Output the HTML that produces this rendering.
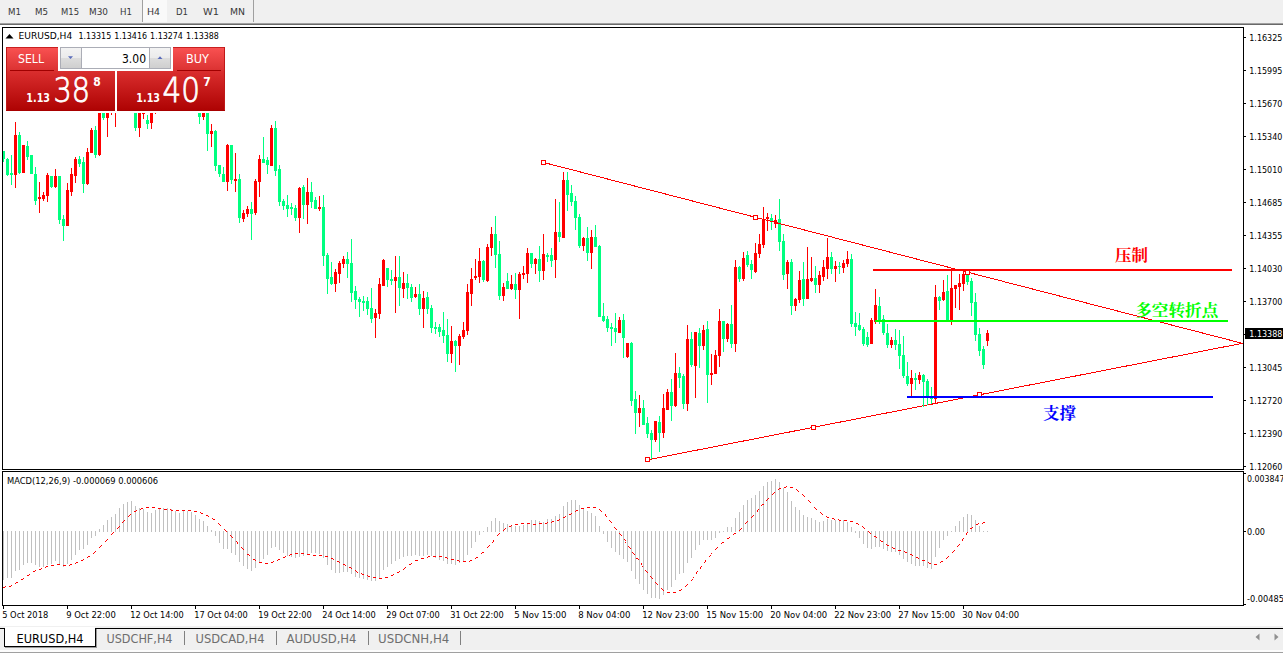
<!DOCTYPE html>
<html><head><meta charset="utf-8"><title>EURUSD,H4</title>
<style>html,body{margin:0;padding:0;background:#fff;overflow:hidden}svg{display:block}</style>
</head><body>
<svg width="1283" height="653" viewBox="0 0 1283 653" font-family="DejaVu Sans Condensed, Liberation Sans, sans-serif">
<defs>
<linearGradient id="gtab" x1="0" y1="0" x2="0" y2="1"><stop offset="0" stop-color="#fa5252"/><stop offset="1" stop-color="#d93030"/></linearGradient>
<linearGradient id="gbig" x1="0" y1="0" x2="0" y2="1"><stop offset="0" stop-color="#da2e2e"/><stop offset="1" stop-color="#ad0202"/></linearGradient>
<linearGradient id="gsp" x1="0" y1="0" x2="0" y2="1"><stop offset="0" stop-color="#f3f3f3"/><stop offset="0.48" stop-color="#ebebeb"/><stop offset="0.52" stop-color="#dcdcdc"/><stop offset="1" stop-color="#cfcfcf"/></linearGradient>
<clipPath id="cm"><rect x="3" y="28" width="1240" height="441"/></clipPath>
<clipPath id="cs"><rect x="3" y="472" width="1240" height="133"/></clipPath>
<clipPath id="cr"><rect x="1244" y="0" width="39" height="653"/></clipPath>
</defs>
<rect x="0" y="0" width="1283" height="653" fill="#fff"/>
<g shape-rendering="crispEdges">
<rect x="0" y="0" width="1283" height="23" fill="#f0f0f0"/>
<rect x="0" y="23" width="1283" height="1" fill="#a0a0a0"/>
<rect x="0" y="24" width="1283" height="1" fill="#696969"/>
<rect x="143" y="0" width="24" height="22" fill="#f9f9f9"/>
<rect x="142" y="0" width="1" height="22" fill="#a0a0a0"/>
<rect x="253" y="0" width="1" height="22" fill="#a0a0a0"/>
</g>
<text x="8" y="15" font-size="9.3" fill="#383838" textLength="13" lengthAdjust="spacingAndGlyphs">M1</text>
<text x="35" y="15" font-size="9.3" fill="#383838" textLength="13" lengthAdjust="spacingAndGlyphs">M5</text>
<text x="61" y="15" font-size="9.3" fill="#383838" textLength="18" lengthAdjust="spacingAndGlyphs">M15</text>
<text x="89" y="15" font-size="9.3" fill="#383838" textLength="19" lengthAdjust="spacingAndGlyphs">M30</text>
<text x="120" y="15" font-size="9.3" fill="#383838" textLength="12" lengthAdjust="spacingAndGlyphs">H1</text>
<text x="147" y="15" font-size="9.3" fill="#383838" textLength="13" lengthAdjust="spacingAndGlyphs">H4</text>
<text x="176" y="15" font-size="9.3" fill="#383838" textLength="12" lengthAdjust="spacingAndGlyphs">D1</text>
<text x="203" y="15" font-size="9.3" fill="#383838" textLength="16" lengthAdjust="spacingAndGlyphs">W1</text>
<text x="230" y="15" font-size="9.3" fill="#383838" textLength="15" lengthAdjust="spacingAndGlyphs">MN</text>
<g shape-rendering="crispEdges" fill="#000">
<rect x="2" y="27" width="1242" height="1" fill="#000"/>
<rect x="2" y="27" width="1" height="443" fill="#000"/>
<rect x="2" y="471" width="1" height="135" fill="#000"/>
<rect x="1243" y="27" width="1" height="443" fill="#000"/>
<rect x="1243" y="471" width="1" height="135" fill="#000"/>
<rect x="2" y="469" width="1242" height="1" fill="#000"/>
<rect x="2" y="471" width="1242" height="1" fill="#000"/>
<rect x="2" y="605" width="1242" height="1" fill="#000"/>
</g>
<g clip-path="url(#cm)" shape-rendering="crispEdges" fill="none" stroke="#ff0000" stroke-width="1">
<line x1="647" y1="459.9" x2="1243" y2="343.2"/>
</g>
<g clip-path="url(#cm)" shape-rendering="crispEdges">
<rect x="3" y="151" width="1" height="11" fill="#00ff80"/>
<rect x="2" y="151" width="3" height="8" fill="#00ff80"/>
<rect x="7" y="158" width="1" height="18" fill="#00ff80"/>
<rect x="6" y="159" width="3" height="16" fill="#00ff80"/>
<rect x="11" y="155" width="1" height="30" fill="#00ff80"/>
<rect x="10" y="173" width="3" height="2" fill="#00ff80"/>
<rect x="15" y="122" width="1" height="66" fill="#ff0000"/>
<rect x="14" y="135" width="3" height="40" fill="#ff0000"/>
<rect x="19" y="132" width="1" height="42" fill="#00ff80"/>
<rect x="18" y="135" width="3" height="38" fill="#00ff80"/>
<rect x="23" y="145" width="1" height="28" fill="#ff0000"/>
<rect x="22" y="145" width="3" height="28" fill="#ff0000"/>
<rect x="27" y="141" width="1" height="19" fill="#00ff80"/>
<rect x="26" y="146" width="3" height="11" fill="#00ff80"/>
<rect x="31" y="155" width="1" height="19" fill="#00ff80"/>
<rect x="30" y="155" width="3" height="19" fill="#00ff80"/>
<rect x="35" y="167" width="1" height="38" fill="#00ff80"/>
<rect x="34" y="174" width="3" height="27" fill="#00ff80"/>
<rect x="39" y="182" width="1" height="31" fill="#ff0000"/>
<rect x="38" y="197" width="3" height="2" fill="#ff0000"/>
<rect x="43" y="192" width="1" height="9" fill="#ff0000"/>
<rect x="42" y="195" width="3" height="4" fill="#ff0000"/>
<rect x="47" y="173" width="1" height="29" fill="#ff0000"/>
<rect x="46" y="175" width="3" height="21" fill="#ff0000"/>
<rect x="51" y="176" width="1" height="12" fill="#00ff80"/>
<rect x="50" y="176" width="3" height="11" fill="#00ff80"/>
<rect x="55" y="169" width="1" height="19" fill="#ff0000"/>
<rect x="54" y="176" width="3" height="11" fill="#ff0000"/>
<rect x="59" y="176" width="1" height="48" fill="#00ff80"/>
<rect x="58" y="176" width="3" height="44" fill="#00ff80"/>
<rect x="63" y="215" width="1" height="26" fill="#00ff80"/>
<rect x="62" y="219" width="3" height="7" fill="#00ff80"/>
<rect x="67" y="183" width="1" height="43" fill="#ff0000"/>
<rect x="66" y="190" width="3" height="36" fill="#ff0000"/>
<rect x="71" y="168" width="1" height="28" fill="#ff0000"/>
<rect x="70" y="174" width="3" height="18" fill="#ff0000"/>
<rect x="75" y="157" width="1" height="26" fill="#ff0000"/>
<rect x="74" y="159" width="3" height="17" fill="#ff0000"/>
<rect x="79" y="156" width="1" height="11" fill="#00ff80"/>
<rect x="78" y="159" width="3" height="5" fill="#00ff80"/>
<rect x="83" y="157" width="1" height="36" fill="#00ff80"/>
<rect x="82" y="162" width="3" height="22" fill="#00ff80"/>
<rect x="87" y="148" width="1" height="37" fill="#ff0000"/>
<rect x="86" y="152" width="3" height="32" fill="#ff0000"/>
<rect x="91" y="128" width="1" height="25" fill="#ff0000"/>
<rect x="90" y="130" width="3" height="23" fill="#ff0000"/>
<rect x="95" y="126" width="1" height="32" fill="#00ff80"/>
<rect x="94" y="130" width="3" height="25" fill="#00ff80"/>
<rect x="99" y="95" width="1" height="61" fill="#ff0000"/>
<rect x="98" y="100" width="3" height="55" fill="#ff0000"/>
<rect x="103" y="95" width="1" height="25" fill="#00ff80"/>
<rect x="102" y="100" width="3" height="18" fill="#00ff80"/>
<rect x="107" y="95" width="1" height="42" fill="#ff0000"/>
<rect x="106" y="100" width="3" height="18" fill="#ff0000"/>
<rect x="111" y="95" width="1" height="20" fill="#ff0000"/>
<rect x="110" y="100" width="3" height="11" fill="#ff0000"/>
<rect x="115" y="95" width="1" height="32" fill="#ff0000"/>
<rect x="114" y="100" width="3" height="11" fill="#ff0000"/>
<rect x="135" y="95" width="1" height="36" fill="#00ff80"/>
<rect x="134" y="100" width="3" height="28" fill="#00ff80"/>
<rect x="139" y="95" width="1" height="42" fill="#ff0000"/>
<rect x="138" y="100" width="3" height="28" fill="#ff0000"/>
<rect x="143" y="95" width="1" height="24" fill="#ff0000"/>
<rect x="142" y="100" width="3" height="14" fill="#ff0000"/>
<rect x="147" y="115" width="1" height="14" fill="#00ff80"/>
<rect x="146" y="120" width="3" height="4" fill="#00ff80"/>
<rect x="151" y="95" width="1" height="34" fill="#ff0000"/>
<rect x="150" y="100" width="3" height="23" fill="#ff0000"/>
<rect x="155" y="95" width="1" height="19" fill="#ff0000"/>
<rect x="154" y="100" width="3" height="11" fill="#ff0000"/>
<rect x="199" y="95" width="1" height="29" fill="#00ff80"/>
<rect x="198" y="100" width="3" height="17" fill="#00ff80"/>
<rect x="203" y="95" width="1" height="25" fill="#ff0000"/>
<rect x="202" y="100" width="3" height="17" fill="#ff0000"/>
<rect x="207" y="95" width="1" height="56" fill="#00ff80"/>
<rect x="206" y="100" width="3" height="34" fill="#00ff80"/>
<rect x="211" y="124" width="1" height="23" fill="#ff0000"/>
<rect x="210" y="131" width="3" height="3" fill="#ff0000"/>
<rect x="215" y="130" width="1" height="41" fill="#00ff80"/>
<rect x="214" y="131" width="3" height="35" fill="#00ff80"/>
<rect x="219" y="165" width="1" height="12" fill="#00ff80"/>
<rect x="218" y="165" width="3" height="9" fill="#00ff80"/>
<rect x="223" y="167" width="1" height="15" fill="#00ff80"/>
<rect x="222" y="174" width="3" height="8" fill="#00ff80"/>
<rect x="227" y="144" width="1" height="47" fill="#ff0000"/>
<rect x="226" y="145" width="3" height="37" fill="#ff0000"/>
<rect x="231" y="145" width="1" height="39" fill="#00ff80"/>
<rect x="230" y="145" width="3" height="35" fill="#00ff80"/>
<rect x="235" y="153" width="1" height="39" fill="#ff0000"/>
<rect x="234" y="179" width="3" height="2" fill="#ff0000"/>
<rect x="239" y="174" width="1" height="49" fill="#00ff80"/>
<rect x="238" y="179" width="3" height="39" fill="#00ff80"/>
<rect x="243" y="210" width="1" height="12" fill="#ff0000"/>
<rect x="242" y="213" width="3" height="6" fill="#ff0000"/>
<rect x="247" y="206" width="1" height="11" fill="#ff0000"/>
<rect x="246" y="209" width="3" height="5" fill="#ff0000"/>
<rect x="251" y="202" width="1" height="38" fill="#00ff80"/>
<rect x="250" y="209" width="3" height="5" fill="#00ff80"/>
<rect x="255" y="179" width="1" height="36" fill="#ff0000"/>
<rect x="254" y="181" width="3" height="32" fill="#ff0000"/>
<rect x="259" y="155" width="1" height="42" fill="#ff0000"/>
<rect x="258" y="159" width="3" height="23" fill="#ff0000"/>
<rect x="263" y="137" width="1" height="26" fill="#00ff80"/>
<rect x="262" y="159" width="3" height="4" fill="#00ff80"/>
<rect x="267" y="157" width="1" height="17" fill="#00ff80"/>
<rect x="266" y="160" width="3" height="5" fill="#00ff80"/>
<rect x="271" y="125" width="1" height="41" fill="#ff0000"/>
<rect x="270" y="128" width="3" height="38" fill="#ff0000"/>
<rect x="275" y="121" width="1" height="55" fill="#00ff80"/>
<rect x="274" y="128" width="3" height="43" fill="#00ff80"/>
<rect x="279" y="165" width="1" height="41" fill="#00ff80"/>
<rect x="278" y="169" width="3" height="33" fill="#00ff80"/>
<rect x="283" y="199" width="1" height="11" fill="#00ff80"/>
<rect x="282" y="201" width="3" height="5" fill="#00ff80"/>
<rect x="287" y="195" width="1" height="22" fill="#00ff80"/>
<rect x="286" y="205" width="3" height="4" fill="#00ff80"/>
<rect x="291" y="203" width="1" height="12" fill="#00ff80"/>
<rect x="290" y="207" width="3" height="2" fill="#00ff80"/>
<rect x="295" y="205" width="1" height="16" fill="#00ff80"/>
<rect x="294" y="208" width="3" height="10" fill="#00ff80"/>
<rect x="299" y="187" width="1" height="46" fill="#ff0000"/>
<rect x="298" y="188" width="3" height="30" fill="#ff0000"/>
<rect x="303" y="185" width="1" height="34" fill="#00ff80"/>
<rect x="302" y="187" width="3" height="18" fill="#00ff80"/>
<rect x="307" y="178" width="1" height="46" fill="#ff0000"/>
<rect x="306" y="192" width="3" height="13" fill="#ff0000"/>
<rect x="311" y="182" width="1" height="26" fill="#00ff80"/>
<rect x="310" y="192" width="3" height="10" fill="#00ff80"/>
<rect x="315" y="197" width="1" height="12" fill="#00ff80"/>
<rect x="314" y="200" width="3" height="9" fill="#00ff80"/>
<rect x="319" y="196" width="1" height="15" fill="#ff0000"/>
<rect x="318" y="207" width="3" height="2" fill="#ff0000"/>
<rect x="323" y="195" width="1" height="71" fill="#00ff80"/>
<rect x="322" y="207" width="3" height="49" fill="#00ff80"/>
<rect x="327" y="253" width="1" height="41" fill="#00ff80"/>
<rect x="326" y="255" width="3" height="24" fill="#00ff80"/>
<rect x="331" y="262" width="1" height="23" fill="#00ff80"/>
<rect x="330" y="277" width="3" height="7" fill="#00ff80"/>
<rect x="335" y="269" width="1" height="23" fill="#ff0000"/>
<rect x="334" y="272" width="3" height="12" fill="#ff0000"/>
<rect x="339" y="261" width="1" height="22" fill="#ff0000"/>
<rect x="338" y="263" width="3" height="11" fill="#ff0000"/>
<rect x="343" y="256" width="1" height="12" fill="#ff0000"/>
<rect x="342" y="259" width="3" height="5" fill="#ff0000"/>
<rect x="347" y="252" width="1" height="26" fill="#00ff80"/>
<rect x="346" y="259" width="3" height="5" fill="#00ff80"/>
<rect x="351" y="239" width="1" height="63" fill="#00ff80"/>
<rect x="350" y="263" width="3" height="30" fill="#00ff80"/>
<rect x="355" y="286" width="1" height="23" fill="#00ff80"/>
<rect x="354" y="291" width="3" height="9" fill="#00ff80"/>
<rect x="359" y="297" width="1" height="20" fill="#00ff80"/>
<rect x="358" y="299" width="3" height="3" fill="#00ff80"/>
<rect x="363" y="296" width="1" height="15" fill="#00ff80"/>
<rect x="362" y="301" width="3" height="2" fill="#00ff80"/>
<rect x="367" y="297" width="1" height="18" fill="#00ff80"/>
<rect x="366" y="301" width="3" height="8" fill="#00ff80"/>
<rect x="371" y="288" width="1" height="35" fill="#00ff80"/>
<rect x="370" y="308" width="3" height="11" fill="#00ff80"/>
<rect x="375" y="309" width="1" height="29" fill="#ff0000"/>
<rect x="374" y="313" width="3" height="5" fill="#ff0000"/>
<rect x="379" y="278" width="1" height="41" fill="#ff0000"/>
<rect x="378" y="284" width="3" height="30" fill="#ff0000"/>
<rect x="383" y="259" width="1" height="27" fill="#ff0000"/>
<rect x="382" y="260" width="3" height="26" fill="#ff0000"/>
<rect x="387" y="268" width="1" height="19" fill="#00ff80"/>
<rect x="386" y="268" width="3" height="12" fill="#00ff80"/>
<rect x="391" y="270" width="1" height="15" fill="#00ff80"/>
<rect x="390" y="279" width="3" height="2" fill="#00ff80"/>
<rect x="395" y="256" width="1" height="57" fill="#ff0000"/>
<rect x="394" y="277" width="3" height="4" fill="#ff0000"/>
<rect x="399" y="256" width="1" height="50" fill="#00ff80"/>
<rect x="398" y="277" width="3" height="11" fill="#00ff80"/>
<rect x="403" y="272" width="1" height="26" fill="#ff0000"/>
<rect x="402" y="283" width="3" height="6" fill="#ff0000"/>
<rect x="407" y="274" width="1" height="25" fill="#00ff80"/>
<rect x="406" y="283" width="3" height="5" fill="#00ff80"/>
<rect x="411" y="284" width="1" height="18" fill="#00ff80"/>
<rect x="410" y="287" width="3" height="11" fill="#00ff80"/>
<rect x="415" y="287" width="1" height="11" fill="#ff0000"/>
<rect x="414" y="294" width="3" height="3" fill="#ff0000"/>
<rect x="419" y="284" width="1" height="31" fill="#00ff80"/>
<rect x="418" y="294" width="3" height="15" fill="#00ff80"/>
<rect x="423" y="291" width="1" height="37" fill="#ff0000"/>
<rect x="422" y="298" width="3" height="11" fill="#ff0000"/>
<rect x="427" y="292" width="1" height="22" fill="#00ff80"/>
<rect x="426" y="297" width="3" height="12" fill="#00ff80"/>
<rect x="431" y="305" width="1" height="28" fill="#00ff80"/>
<rect x="430" y="308" width="3" height="20" fill="#00ff80"/>
<rect x="435" y="322" width="1" height="12" fill="#00ff80"/>
<rect x="434" y="327" width="3" height="2" fill="#00ff80"/>
<rect x="439" y="324" width="1" height="13" fill="#00ff80"/>
<rect x="438" y="327" width="3" height="5" fill="#00ff80"/>
<rect x="443" y="312" width="1" height="31" fill="#00ff80"/>
<rect x="442" y="330" width="3" height="6" fill="#00ff80"/>
<rect x="447" y="319" width="1" height="43" fill="#00ff80"/>
<rect x="446" y="335" width="3" height="19" fill="#00ff80"/>
<rect x="451" y="326" width="1" height="37" fill="#ff0000"/>
<rect x="450" y="341" width="3" height="13" fill="#ff0000"/>
<rect x="455" y="340" width="1" height="32" fill="#00ff80"/>
<rect x="454" y="341" width="3" height="5" fill="#00ff80"/>
<rect x="459" y="334" width="1" height="31" fill="#ff0000"/>
<rect x="458" y="336" width="3" height="10" fill="#ff0000"/>
<rect x="463" y="322" width="1" height="17" fill="#ff0000"/>
<rect x="462" y="330" width="3" height="7" fill="#ff0000"/>
<rect x="467" y="284" width="1" height="51" fill="#ff0000"/>
<rect x="466" y="292" width="3" height="39" fill="#ff0000"/>
<rect x="471" y="268" width="1" height="38" fill="#ff0000"/>
<rect x="470" y="279" width="3" height="15" fill="#ff0000"/>
<rect x="475" y="259" width="1" height="21" fill="#ff0000"/>
<rect x="474" y="276" width="3" height="2" fill="#ff0000"/>
<rect x="479" y="248" width="1" height="35" fill="#ff0000"/>
<rect x="478" y="261" width="3" height="16" fill="#ff0000"/>
<rect x="483" y="260" width="1" height="22" fill="#00ff80"/>
<rect x="482" y="261" width="3" height="19" fill="#00ff80"/>
<rect x="487" y="244" width="1" height="38" fill="#ff0000"/>
<rect x="486" y="247" width="3" height="34" fill="#ff0000"/>
<rect x="491" y="227" width="1" height="29" fill="#ff0000"/>
<rect x="490" y="234" width="3" height="14" fill="#ff0000"/>
<rect x="495" y="216" width="1" height="52" fill="#00ff80"/>
<rect x="494" y="234" width="3" height="21" fill="#00ff80"/>
<rect x="499" y="241" width="1" height="59" fill="#00ff80"/>
<rect x="498" y="254" width="3" height="42" fill="#00ff80"/>
<rect x="503" y="283" width="1" height="18" fill="#ff0000"/>
<rect x="502" y="287" width="3" height="9" fill="#ff0000"/>
<rect x="507" y="273" width="1" height="16" fill="#00ff80"/>
<rect x="506" y="281" width="3" height="8" fill="#00ff80"/>
<rect x="511" y="275" width="1" height="15" fill="#ff0000"/>
<rect x="510" y="284" width="3" height="5" fill="#ff0000"/>
<rect x="515" y="273" width="1" height="26" fill="#00ff80"/>
<rect x="514" y="284" width="3" height="6" fill="#00ff80"/>
<rect x="519" y="272" width="1" height="47" fill="#ff0000"/>
<rect x="518" y="274" width="3" height="16" fill="#ff0000"/>
<rect x="523" y="266" width="1" height="13" fill="#ff0000"/>
<rect x="522" y="273" width="3" height="2" fill="#ff0000"/>
<rect x="527" y="248" width="1" height="35" fill="#ff0000"/>
<rect x="526" y="253" width="3" height="21" fill="#ff0000"/>
<rect x="531" y="253" width="1" height="15" fill="#00ff80"/>
<rect x="530" y="253" width="3" height="11" fill="#00ff80"/>
<rect x="535" y="258" width="1" height="16" fill="#ff0000"/>
<rect x="534" y="259" width="3" height="5" fill="#ff0000"/>
<rect x="539" y="246" width="1" height="36" fill="#00ff80"/>
<rect x="538" y="259" width="3" height="12" fill="#00ff80"/>
<rect x="543" y="234" width="1" height="46" fill="#ff0000"/>
<rect x="542" y="254" width="3" height="17" fill="#ff0000"/>
<rect x="547" y="253" width="1" height="9" fill="#00ff80"/>
<rect x="546" y="255" width="3" height="2" fill="#00ff80"/>
<rect x="551" y="248" width="1" height="19" fill="#00ff80"/>
<rect x="550" y="255" width="3" height="6" fill="#00ff80"/>
<rect x="555" y="199" width="1" height="79" fill="#ff0000"/>
<rect x="554" y="232" width="3" height="28" fill="#ff0000"/>
<rect x="559" y="202" width="1" height="40" fill="#00ff80"/>
<rect x="558" y="232" width="3" height="5" fill="#00ff80"/>
<rect x="563" y="172" width="1" height="66" fill="#ff0000"/>
<rect x="562" y="180" width="3" height="58" fill="#ff0000"/>
<rect x="567" y="172" width="1" height="39" fill="#00ff80"/>
<rect x="566" y="180" width="3" height="15" fill="#00ff80"/>
<rect x="571" y="185" width="1" height="21" fill="#00ff80"/>
<rect x="570" y="193" width="3" height="9" fill="#00ff80"/>
<rect x="575" y="196" width="1" height="34" fill="#00ff80"/>
<rect x="574" y="201" width="3" height="17" fill="#00ff80"/>
<rect x="579" y="214" width="1" height="34" fill="#00ff80"/>
<rect x="578" y="217" width="3" height="29" fill="#00ff80"/>
<rect x="583" y="237" width="1" height="14" fill="#ff0000"/>
<rect x="582" y="238" width="3" height="8" fill="#ff0000"/>
<rect x="587" y="227" width="1" height="34" fill="#00ff80"/>
<rect x="586" y="238" width="3" height="15" fill="#00ff80"/>
<rect x="591" y="230" width="1" height="39" fill="#ff0000"/>
<rect x="590" y="237" width="3" height="16" fill="#ff0000"/>
<rect x="595" y="225" width="1" height="22" fill="#00ff80"/>
<rect x="594" y="237" width="3" height="10" fill="#00ff80"/>
<rect x="599" y="245" width="1" height="72" fill="#00ff80"/>
<rect x="598" y="246" width="3" height="71" fill="#00ff80"/>
<rect x="603" y="303" width="1" height="19" fill="#00ff80"/>
<rect x="602" y="316" width="3" height="5" fill="#00ff80"/>
<rect x="607" y="316" width="1" height="16" fill="#00ff80"/>
<rect x="606" y="319" width="3" height="9" fill="#00ff80"/>
<rect x="611" y="323" width="1" height="23" fill="#00ff80"/>
<rect x="610" y="327" width="3" height="2" fill="#00ff80"/>
<rect x="615" y="313" width="1" height="30" fill="#00ff80"/>
<rect x="614" y="328" width="3" height="4" fill="#00ff80"/>
<rect x="619" y="317" width="1" height="16" fill="#ff0000"/>
<rect x="618" y="320" width="3" height="13" fill="#ff0000"/>
<rect x="623" y="314" width="1" height="44" fill="#00ff80"/>
<rect x="622" y="320" width="3" height="18" fill="#00ff80"/>
<rect x="627" y="343" width="1" height="15" fill="#ff0000"/>
<rect x="626" y="343" width="3" height="14" fill="#ff0000"/>
<rect x="631" y="342" width="1" height="64" fill="#00ff80"/>
<rect x="630" y="343" width="3" height="58" fill="#00ff80"/>
<rect x="635" y="391" width="1" height="43" fill="#00ff80"/>
<rect x="634" y="399" width="3" height="14" fill="#00ff80"/>
<rect x="639" y="395" width="1" height="32" fill="#ff0000"/>
<rect x="638" y="408" width="3" height="5" fill="#ff0000"/>
<rect x="643" y="400" width="1" height="25" fill="#00ff80"/>
<rect x="642" y="408" width="3" height="17" fill="#00ff80"/>
<rect x="647" y="417" width="1" height="21" fill="#00ff80"/>
<rect x="646" y="423" width="3" height="11" fill="#00ff80"/>
<rect x="651" y="430" width="1" height="29" fill="#00ff80"/>
<rect x="650" y="433" width="3" height="7" fill="#00ff80"/>
<rect x="655" y="421" width="1" height="21" fill="#ff0000"/>
<rect x="654" y="421" width="3" height="19" fill="#ff0000"/>
<rect x="659" y="416" width="1" height="36" fill="#00ff80"/>
<rect x="658" y="422" width="3" height="11" fill="#00ff80"/>
<rect x="663" y="394" width="1" height="44" fill="#ff0000"/>
<rect x="662" y="408" width="3" height="25" fill="#ff0000"/>
<rect x="667" y="389" width="1" height="21" fill="#ff0000"/>
<rect x="666" y="392" width="3" height="18" fill="#ff0000"/>
<rect x="671" y="379" width="1" height="42" fill="#00ff80"/>
<rect x="670" y="392" width="3" height="14" fill="#00ff80"/>
<rect x="675" y="353" width="1" height="54" fill="#ff0000"/>
<rect x="674" y="373" width="3" height="33" fill="#ff0000"/>
<rect x="679" y="367" width="1" height="21" fill="#00ff80"/>
<rect x="678" y="373" width="3" height="5" fill="#00ff80"/>
<rect x="683" y="374" width="1" height="35" fill="#00ff80"/>
<rect x="682" y="376" width="3" height="28" fill="#00ff80"/>
<rect x="687" y="325" width="1" height="86" fill="#ff0000"/>
<rect x="686" y="339" width="3" height="65" fill="#ff0000"/>
<rect x="691" y="332" width="1" height="35" fill="#00ff80"/>
<rect x="690" y="339" width="3" height="26" fill="#00ff80"/>
<rect x="695" y="332" width="1" height="66" fill="#ff0000"/>
<rect x="694" y="332" width="3" height="34" fill="#ff0000"/>
<rect x="699" y="328" width="1" height="40" fill="#00ff80"/>
<rect x="698" y="333" width="3" height="13" fill="#00ff80"/>
<rect x="703" y="325" width="1" height="25" fill="#ff0000"/>
<rect x="702" y="330" width="3" height="16" fill="#ff0000"/>
<rect x="707" y="321" width="1" height="82" fill="#00ff80"/>
<rect x="706" y="329" width="3" height="46" fill="#00ff80"/>
<rect x="711" y="354" width="1" height="31" fill="#ff0000"/>
<rect x="710" y="373" width="3" height="2" fill="#ff0000"/>
<rect x="715" y="350" width="1" height="24" fill="#ff0000"/>
<rect x="714" y="355" width="3" height="19" fill="#ff0000"/>
<rect x="719" y="309" width="1" height="58" fill="#ff0000"/>
<rect x="718" y="321" width="3" height="35" fill="#ff0000"/>
<rect x="723" y="321" width="1" height="31" fill="#00ff80"/>
<rect x="722" y="321" width="3" height="18" fill="#00ff80"/>
<rect x="727" y="323" width="1" height="19" fill="#ff0000"/>
<rect x="726" y="324" width="3" height="15" fill="#ff0000"/>
<rect x="731" y="305" width="1" height="43" fill="#00ff80"/>
<rect x="730" y="324" width="3" height="20" fill="#00ff80"/>
<rect x="735" y="260" width="1" height="92" fill="#ff0000"/>
<rect x="734" y="267" width="3" height="77" fill="#ff0000"/>
<rect x="739" y="266" width="1" height="16" fill="#00ff80"/>
<rect x="738" y="267" width="3" height="12" fill="#00ff80"/>
<rect x="743" y="252" width="1" height="29" fill="#ff0000"/>
<rect x="742" y="258" width="3" height="21" fill="#ff0000"/>
<rect x="747" y="251" width="1" height="16" fill="#00ff80"/>
<rect x="746" y="255" width="3" height="10" fill="#00ff80"/>
<rect x="751" y="260" width="1" height="19" fill="#00ff80"/>
<rect x="750" y="264" width="3" height="6" fill="#00ff80"/>
<rect x="755" y="243" width="1" height="30" fill="#ff0000"/>
<rect x="754" y="253" width="3" height="19" fill="#ff0000"/>
<rect x="759" y="234" width="1" height="24" fill="#ff0000"/>
<rect x="758" y="244" width="3" height="10" fill="#ff0000"/>
<rect x="763" y="207" width="1" height="41" fill="#ff0000"/>
<rect x="762" y="219" width="3" height="26" fill="#ff0000"/>
<rect x="767" y="213" width="1" height="18" fill="#ff0000"/>
<rect x="766" y="217" width="3" height="2" fill="#ff0000"/>
<rect x="771" y="214" width="1" height="16" fill="#00ff80"/>
<rect x="770" y="218" width="3" height="4" fill="#00ff80"/>
<rect x="775" y="215" width="1" height="13" fill="#ff0000"/>
<rect x="774" y="220" width="3" height="4" fill="#ff0000"/>
<rect x="779" y="199" width="1" height="52" fill="#00ff80"/>
<rect x="778" y="219" width="3" height="23" fill="#00ff80"/>
<rect x="783" y="234" width="1" height="46" fill="#00ff80"/>
<rect x="782" y="241" width="3" height="34" fill="#00ff80"/>
<rect x="787" y="260" width="1" height="29" fill="#ff0000"/>
<rect x="786" y="262" width="3" height="12" fill="#ff0000"/>
<rect x="791" y="259" width="1" height="56" fill="#00ff80"/>
<rect x="790" y="262" width="3" height="44" fill="#00ff80"/>
<rect x="795" y="298" width="1" height="13" fill="#ff0000"/>
<rect x="794" y="299" width="3" height="7" fill="#ff0000"/>
<rect x="799" y="271" width="1" height="32" fill="#ff0000"/>
<rect x="798" y="280" width="3" height="20" fill="#ff0000"/>
<rect x="803" y="262" width="1" height="44" fill="#00ff80"/>
<rect x="802" y="279" width="3" height="20" fill="#00ff80"/>
<rect x="807" y="247" width="1" height="52" fill="#ff0000"/>
<rect x="806" y="279" width="3" height="20" fill="#ff0000"/>
<rect x="811" y="257" width="1" height="25" fill="#ff0000"/>
<rect x="810" y="278" width="3" height="3" fill="#ff0000"/>
<rect x="815" y="266" width="1" height="27" fill="#00ff80"/>
<rect x="814" y="278" width="3" height="7" fill="#00ff80"/>
<rect x="819" y="271" width="1" height="22" fill="#ff0000"/>
<rect x="818" y="275" width="3" height="10" fill="#ff0000"/>
<rect x="823" y="260" width="1" height="21" fill="#ff0000"/>
<rect x="822" y="267" width="3" height="10" fill="#ff0000"/>
<rect x="827" y="238" width="1" height="41" fill="#ff0000"/>
<rect x="826" y="257" width="3" height="12" fill="#ff0000"/>
<rect x="831" y="252" width="1" height="22" fill="#00ff80"/>
<rect x="830" y="257" width="3" height="12" fill="#00ff80"/>
<rect x="835" y="261" width="1" height="21" fill="#ff0000"/>
<rect x="834" y="266" width="3" height="3" fill="#ff0000"/>
<rect x="839" y="262" width="1" height="12" fill="#00ff80"/>
<rect x="838" y="266" width="3" height="1" fill="#00ff80"/>
<rect x="843" y="260" width="1" height="13" fill="#ff0000"/>
<rect x="842" y="263" width="3" height="5" fill="#ff0000"/>
<rect x="847" y="251" width="1" height="16" fill="#ff0000"/>
<rect x="846" y="259" width="3" height="5" fill="#ff0000"/>
<rect x="851" y="254" width="1" height="73" fill="#00ff80"/>
<rect x="850" y="259" width="3" height="65" fill="#00ff80"/>
<rect x="855" y="312" width="1" height="24" fill="#00ff80"/>
<rect x="854" y="323" width="3" height="4" fill="#00ff80"/>
<rect x="859" y="313" width="1" height="18" fill="#00ff80"/>
<rect x="858" y="325" width="3" height="5" fill="#00ff80"/>
<rect x="863" y="327" width="1" height="19" fill="#00ff80"/>
<rect x="862" y="329" width="3" height="15" fill="#00ff80"/>
<rect x="867" y="332" width="1" height="15" fill="#00ff80"/>
<rect x="866" y="337" width="3" height="8" fill="#00ff80"/>
<rect x="871" y="318" width="1" height="26" fill="#ff0000"/>
<rect x="870" y="320" width="3" height="24" fill="#ff0000"/>
<rect x="875" y="289" width="1" height="35" fill="#ff0000"/>
<rect x="874" y="305" width="3" height="17" fill="#ff0000"/>
<rect x="879" y="297" width="1" height="27" fill="#00ff80"/>
<rect x="878" y="306" width="3" height="16" fill="#00ff80"/>
<rect x="883" y="315" width="1" height="20" fill="#00ff80"/>
<rect x="882" y="319" width="3" height="14" fill="#00ff80"/>
<rect x="887" y="324" width="1" height="24" fill="#00ff80"/>
<rect x="886" y="333" width="3" height="12" fill="#00ff80"/>
<rect x="891" y="337" width="1" height="11" fill="#ff0000"/>
<rect x="890" y="340" width="3" height="5" fill="#ff0000"/>
<rect x="895" y="329" width="1" height="21" fill="#00ff80"/>
<rect x="894" y="340" width="3" height="5" fill="#00ff80"/>
<rect x="899" y="330" width="1" height="39" fill="#00ff80"/>
<rect x="898" y="344" width="3" height="12" fill="#00ff80"/>
<rect x="903" y="336" width="1" height="42" fill="#00ff80"/>
<rect x="902" y="355" width="3" height="21" fill="#00ff80"/>
<rect x="907" y="362" width="1" height="24" fill="#00ff80"/>
<rect x="906" y="376" width="3" height="8" fill="#00ff80"/>
<rect x="911" y="370" width="1" height="27" fill="#ff0000"/>
<rect x="910" y="378" width="3" height="6" fill="#ff0000"/>
<rect x="915" y="373" width="1" height="17" fill="#00ff80"/>
<rect x="914" y="378" width="3" height="2" fill="#00ff80"/>
<rect x="919" y="372" width="1" height="12" fill="#ff0000"/>
<rect x="918" y="375" width="3" height="5" fill="#ff0000"/>
<rect x="923" y="374" width="1" height="33" fill="#00ff80"/>
<rect x="922" y="375" width="3" height="7" fill="#00ff80"/>
<rect x="927" y="379" width="1" height="26" fill="#00ff80"/>
<rect x="926" y="381" width="3" height="17" fill="#00ff80"/>
<rect x="931" y="387" width="1" height="17" fill="#00ff80"/>
<rect x="930" y="398" width="3" height="1" fill="#00ff80"/>
<rect x="935" y="285" width="1" height="119" fill="#ff0000"/>
<rect x="934" y="297" width="3" height="102" fill="#ff0000"/>
<rect x="939" y="296" width="1" height="14" fill="#00ff80"/>
<rect x="938" y="297" width="3" height="4" fill="#00ff80"/>
<rect x="943" y="280" width="1" height="21" fill="#ff0000"/>
<rect x="942" y="292" width="3" height="8" fill="#ff0000"/>
<rect x="947" y="275" width="1" height="46" fill="#00ff80"/>
<rect x="946" y="291" width="3" height="30" fill="#00ff80"/>
<rect x="951" y="269" width="1" height="56" fill="#ff0000"/>
<rect x="950" y="288" width="3" height="33" fill="#ff0000"/>
<rect x="955" y="285" width="1" height="23" fill="#ff0000"/>
<rect x="954" y="285" width="3" height="4" fill="#ff0000"/>
<rect x="959" y="274" width="1" height="36" fill="#ff0000"/>
<rect x="958" y="283" width="3" height="4" fill="#ff0000"/>
<rect x="963" y="272" width="1" height="19" fill="#ff0000"/>
<rect x="962" y="274" width="3" height="10" fill="#ff0000"/>
<rect x="967" y="273" width="1" height="12" fill="#00ff80"/>
<rect x="966" y="275" width="3" height="7" fill="#00ff80"/>
<rect x="971" y="278" width="1" height="38" fill="#00ff80"/>
<rect x="970" y="281" width="3" height="22" fill="#00ff80"/>
<rect x="975" y="293" width="1" height="48" fill="#00ff80"/>
<rect x="974" y="302" width="3" height="33" fill="#00ff80"/>
<rect x="979" y="328" width="1" height="28" fill="#00ff80"/>
<rect x="978" y="334" width="3" height="17" fill="#00ff80"/>
<rect x="983" y="346" width="1" height="23" fill="#00ff80"/>
<rect x="982" y="349" width="3" height="16" fill="#00ff80"/>
<rect x="987" y="330" width="1" height="16" fill="#ff0000"/>
<rect x="986" y="333" width="3" height="8" fill="#ff0000"/>
</g>
<g clip-path="url(#cm)" shape-rendering="crispEdges" fill="none" stroke="#ff0000" stroke-width="1">
<line x1="543" y1="162.3" x2="1243" y2="343.5"/>
<rect x="541.5" y="160.5" width="4" height="4" fill="#fff"/>
<rect x="753.5" y="215.5" width="4" height="4" fill="#fff"/>
<rect x="965.5" y="270.5" width="4" height="4" fill="#fff"/>
<rect x="645.5" y="457.5" width="4" height="4" fill="#fff"/>
<rect x="811.5" y="425.5" width="4" height="4" fill="#fff"/>
<rect x="977.5" y="392.5" width="4" height="4" fill="#fff"/>
</g>
<g shape-rendering="crispEdges">
<rect x="873" y="269" width="359" height="2" fill="#ff0000"/>
<rect x="875" y="320" width="353" height="2" fill="#00ff00"/>
<rect x="907" y="396" width="306" height="2" fill="#0000ff"/>
</g>
<text x="1115" y="261" font-size="16" font-weight="bold" fill="#ff0000" font-family="Liberation Serif, 'Noto Serif CJK SC', 'Noto Sans CJK SC', serif" textLength="33" lengthAdjust="spacingAndGlyphs">压制</text>
<text x="1135.2" y="315.7" font-size="15.5" font-weight="bold" fill="#00ff00" font-family="Liberation Serif, 'Noto Serif CJK SC', 'Noto Sans CJK SC', serif" textLength="83.2" lengthAdjust="spacingAndGlyphs">多空转折点</text>
<text x="1043" y="419" font-size="16" font-weight="bold" fill="#0000ff" font-family="Liberation Serif, 'Noto Serif CJK SC', 'Noto Sans CJK SC', serif" textLength="33" lengthAdjust="spacingAndGlyphs">支撑</text>
<path d="M5.5 38.5 L9.5 34 L13.5 38.5 Z" fill="#000"/>
<text x="18.5" y="39" font-size="9.3" fill="#000" textLength="53.7" lengthAdjust="spacingAndGlyphs">EURUSD,H4</text>
<text x="78.4" y="39" font-size="9.3" fill="#000" textLength="32.8" lengthAdjust="spacingAndGlyphs">1.13315</text>
<text x="114.2" y="39" font-size="9.3" fill="#000" textLength="32.8" lengthAdjust="spacingAndGlyphs">1.13416</text>
<text x="150.1" y="39" font-size="9.3" fill="#000" textLength="32.8" lengthAdjust="spacingAndGlyphs">1.13274</text>
<text x="186.1" y="39" font-size="9.3" fill="#000" textLength="32.8" lengthAdjust="spacingAndGlyphs">1.13388</text>
<rect x="3" y="42" width="226" height="71" fill="#fff"/>
<g shape-rendering="crispEdges">
<rect x="6" y="47" width="52" height="25" fill="url(#gtab)"/>
<rect x="173" y="47" width="52" height="25" fill="url(#gtab)"/>
<rect x="6" y="71" width="109" height="40" fill="url(#gbig)"/>
<rect x="117" y="71" width="108" height="40" fill="url(#gbig)"/>
<rect x="6" y="47" width="52" height="1" fill="#c82020"/>
<rect x="173" y="47" width="52" height="1" fill="#c82020"/>
<rect x="6" y="47" width="1" height="64" fill="#c01818"/>
<rect x="224" y="47" width="1" height="64" fill="#c01818"/>
<rect x="10" y="70" width="44" height="1" fill="#a00000"/>
<rect x="177" y="70" width="44" height="1" fill="#a00000"/>
<rect x="6" y="110" width="109" height="1" fill="#a80000"/>
<rect x="117" y="110" width="108" height="1" fill="#a80000"/>
<rect x="60" y="47" width="111" height="22" fill="#abadb6"/>
<rect x="61" y="48" width="109" height="20" fill="#ffffff"/>
<rect x="61" y="48" width="20" height="20" fill="url(#gsp)"/>
<rect x="81" y="48" width="1" height="20" fill="#abadb6"/>
<rect x="150" y="48" width="20" height="20" fill="url(#gsp)"/>
<rect x="149" y="48" width="1" height="20" fill="#abadb6"/>
</g>
<path d="M68 56.2 L73 56.2 L70.5 59 Z" fill="#5a6cba"/>
<path d="M157.5 59 L162.5 59 L160 56.2 Z" fill="#5a6cba"/>
<text x="18" y="63" font-size="12" fill="#fff" textLength="26" lengthAdjust="spacingAndGlyphs">SELL</text>
<text x="186" y="63" font-size="12" fill="#fff" textLength="23" lengthAdjust="spacingAndGlyphs">BUY</text>
<text x="122" y="63" font-size="12" fill="#000" textLength="24" lengthAdjust="spacingAndGlyphs">3.00</text>
<text x="26.3" y="101.5" font-size="12" fill="#fff" textLength="23.7" lengthAdjust="spacingAndGlyphs" font-weight="bold">1.13</text>
<text x="53.5" y="102.4" font-size="33" fill="#fff" textLength="36.5" lengthAdjust="spacingAndGlyphs" font-weight="200" font-family="DejaVu Sans, Liberation Sans, sans-serif" stroke="#fff" stroke-width="0.85">38</text>
<text x="93.3" y="86" font-size="12" fill="#fff" font-weight="bold">8</text>
<text x="136.3" y="101.5" font-size="12" fill="#fff" textLength="23.7" lengthAdjust="spacingAndGlyphs" font-weight="bold">1.13</text>
<text x="162.5" y="102.4" font-size="33" fill="#fff" textLength="37.5" lengthAdjust="spacingAndGlyphs" font-weight="200" font-family="DejaVu Sans, Liberation Sans, sans-serif" stroke="#fff" stroke-width="0.85">40</text>
<text x="203.3" y="86" font-size="12" fill="#fff" font-weight="bold">7</text>
<g shape-rendering="crispEdges">
<rect x="1244" y="37" width="2" height="1" fill="#000"/>
<rect x="1244" y="70" width="2" height="1" fill="#000"/>
<rect x="1244" y="103" width="2" height="1" fill="#000"/>
<rect x="1244" y="136" width="2" height="1" fill="#000"/>
<rect x="1244" y="169" width="2" height="1" fill="#000"/>
<rect x="1244" y="202" width="2" height="1" fill="#000"/>
<rect x="1244" y="235" width="2" height="1" fill="#000"/>
<rect x="1244" y="268" width="2" height="1" fill="#000"/>
<rect x="1244" y="301" width="2" height="1" fill="#000"/>
<rect x="1244" y="367" width="2" height="1" fill="#000"/>
<rect x="1244" y="400" width="2" height="1" fill="#000"/>
<rect x="1244" y="433" width="2" height="1" fill="#000"/>
<rect x="1244" y="466" width="2" height="1" fill="#000"/>
<rect x="1245" y="328" width="38" height="11" fill="#000"/>
<rect x="1244" y="334" width="1" height="1" fill="#000"/>
<rect x="1244" y="473" width="2" height="1" fill="#000"/>
<rect x="1244" y="531" width="2" height="1" fill="#000"/>
<rect x="1244" y="604" width="2" height="1" fill="#000"/>
</g>
<text x="1249.3" y="41" font-size="9.3" fill="#000" textLength="33" lengthAdjust="spacingAndGlyphs">1.16325</text>
<text x="1249.3" y="74" font-size="9.3" fill="#000" textLength="33" lengthAdjust="spacingAndGlyphs">1.15995</text>
<text x="1249.3" y="107" font-size="9.3" fill="#000" textLength="33" lengthAdjust="spacingAndGlyphs">1.15670</text>
<text x="1249.3" y="140" font-size="9.3" fill="#000" textLength="33" lengthAdjust="spacingAndGlyphs">1.15340</text>
<text x="1249.3" y="173" font-size="9.3" fill="#000" textLength="33" lengthAdjust="spacingAndGlyphs">1.15010</text>
<text x="1249.3" y="206" font-size="9.3" fill="#000" textLength="33" lengthAdjust="spacingAndGlyphs">1.14685</text>
<text x="1249.3" y="239" font-size="9.3" fill="#000" textLength="33" lengthAdjust="spacingAndGlyphs">1.14355</text>
<text x="1249.3" y="272" font-size="9.3" fill="#000" textLength="33" lengthAdjust="spacingAndGlyphs">1.14030</text>
<text x="1249.3" y="305" font-size="9.3" fill="#000" textLength="33" lengthAdjust="spacingAndGlyphs">1.13700</text>
<text x="1249.3" y="371" font-size="9.3" fill="#000" textLength="33" lengthAdjust="spacingAndGlyphs">1.13045</text>
<text x="1249.3" y="404" font-size="9.3" fill="#000" textLength="33" lengthAdjust="spacingAndGlyphs">1.12720</text>
<text x="1249.3" y="437" font-size="9.3" fill="#000" textLength="33" lengthAdjust="spacingAndGlyphs">1.12390</text>
<text x="1249.3" y="470" font-size="9.3" fill="#000" textLength="33" lengthAdjust="spacingAndGlyphs">1.12060</text>
<text x="1249.3" y="337" font-size="9.3" fill="#fff" textLength="33" lengthAdjust="spacingAndGlyphs">1.13388</text>
<g clip-path="url(#cr)">
<text x="1247" y="482" font-size="9.3" fill="#000" textLength="37.5" lengthAdjust="spacingAndGlyphs">0.003847</text>
<text x="1247" y="535" font-size="9.3" fill="#000" textLength="18" lengthAdjust="spacingAndGlyphs">0.00</text>
<text x="1247" y="602.2" font-size="9.3" fill="#000" textLength="37" lengthAdjust="spacingAndGlyphs">-0.00485</text>
</g>
<text x="7" y="484" font-size="9.3" fill="#000" textLength="151" lengthAdjust="spacingAndGlyphs">MACD(12,26,9) -0.000069 0.000606</text>
<g clip-path="url(#cs)" shape-rendering="crispEdges">
<rect x="3" y="531" width="1" height="49" fill="#c0c0c0"/>
<rect x="7" y="531" width="1" height="47" fill="#c0c0c0"/>
<rect x="11" y="531" width="1" height="47" fill="#c0c0c0"/>
<rect x="15" y="531" width="1" height="40" fill="#c0c0c0"/>
<rect x="19" y="531" width="1" height="39" fill="#c0c0c0"/>
<rect x="23" y="531" width="1" height="34" fill="#c0c0c0"/>
<rect x="27" y="531" width="1" height="32" fill="#c0c0c0"/>
<rect x="31" y="531" width="1" height="32" fill="#c0c0c0"/>
<rect x="35" y="531" width="1" height="34" fill="#c0c0c0"/>
<rect x="39" y="531" width="1" height="36" fill="#c0c0c0"/>
<rect x="43" y="531" width="1" height="36" fill="#c0c0c0"/>
<rect x="47" y="531" width="1" height="34" fill="#c0c0c0"/>
<rect x="51" y="531" width="1" height="33" fill="#c0c0c0"/>
<rect x="55" y="531" width="1" height="30" fill="#c0c0c0"/>
<rect x="59" y="531" width="1" height="33" fill="#c0c0c0"/>
<rect x="63" y="531" width="1" height="36" fill="#c0c0c0"/>
<rect x="67" y="531" width="1" height="33" fill="#c0c0c0"/>
<rect x="71" y="531" width="1" height="29" fill="#c0c0c0"/>
<rect x="75" y="531" width="1" height="24" fill="#c0c0c0"/>
<rect x="79" y="531" width="1" height="19" fill="#c0c0c0"/>
<rect x="83" y="531" width="1" height="18" fill="#c0c0c0"/>
<rect x="87" y="531" width="1" height="14" fill="#c0c0c0"/>
<rect x="91" y="531" width="1" height="7" fill="#c0c0c0"/>
<rect x="95" y="531" width="1" height="5" fill="#c0c0c0"/>
<rect x="99" y="529" width="1" height="3" fill="#c0c0c0"/>
<rect x="103" y="525" width="1" height="7" fill="#c0c0c0"/>
<rect x="107" y="520" width="1" height="12" fill="#c0c0c0"/>
<rect x="111" y="517" width="1" height="15" fill="#c0c0c0"/>
<rect x="115" y="514" width="1" height="18" fill="#c0c0c0"/>
<rect x="119" y="508" width="1" height="24" fill="#c0c0c0"/>
<rect x="123" y="504" width="1" height="28" fill="#c0c0c0"/>
<rect x="127" y="502" width="1" height="30" fill="#c0c0c0"/>
<rect x="131" y="501" width="1" height="31" fill="#c0c0c0"/>
<rect x="135" y="506" width="1" height="26" fill="#c0c0c0"/>
<rect x="139" y="508" width="1" height="24" fill="#c0c0c0"/>
<rect x="143" y="509" width="1" height="23" fill="#c0c0c0"/>
<rect x="147" y="512" width="1" height="20" fill="#c0c0c0"/>
<rect x="151" y="513" width="1" height="19" fill="#c0c0c0"/>
<rect x="155" y="510" width="1" height="22" fill="#c0c0c0"/>
<rect x="159" y="509" width="1" height="23" fill="#c0c0c0"/>
<rect x="163" y="508" width="1" height="24" fill="#c0c0c0"/>
<rect x="167" y="508" width="1" height="24" fill="#c0c0c0"/>
<rect x="171" y="509" width="1" height="23" fill="#c0c0c0"/>
<rect x="175" y="511" width="1" height="21" fill="#c0c0c0"/>
<rect x="179" y="513" width="1" height="19" fill="#c0c0c0"/>
<rect x="183" y="511" width="1" height="21" fill="#c0c0c0"/>
<rect x="187" y="511" width="1" height="21" fill="#c0c0c0"/>
<rect x="191" y="512" width="1" height="20" fill="#c0c0c0"/>
<rect x="195" y="515" width="1" height="17" fill="#c0c0c0"/>
<rect x="199" y="519" width="1" height="13" fill="#c0c0c0"/>
<rect x="203" y="521" width="1" height="11" fill="#c0c0c0"/>
<rect x="207" y="526" width="1" height="6" fill="#c0c0c0"/>
<rect x="211" y="530" width="1" height="2" fill="#c0c0c0"/>
<rect x="215" y="531" width="1" height="5" fill="#c0c0c0"/>
<rect x="219" y="531" width="1" height="12" fill="#c0c0c0"/>
<rect x="223" y="531" width="1" height="18" fill="#c0c0c0"/>
<rect x="227" y="531" width="1" height="18" fill="#c0c0c0"/>
<rect x="231" y="531" width="1" height="22" fill="#c0c0c0"/>
<rect x="235" y="531" width="1" height="24" fill="#c0c0c0"/>
<rect x="239" y="531" width="1" height="31" fill="#c0c0c0"/>
<rect x="243" y="531" width="1" height="35" fill="#c0c0c0"/>
<rect x="247" y="531" width="1" height="38" fill="#c0c0c0"/>
<rect x="251" y="531" width="1" height="40" fill="#c0c0c0"/>
<rect x="255" y="531" width="1" height="37" fill="#c0c0c0"/>
<rect x="259" y="531" width="1" height="32" fill="#c0c0c0"/>
<rect x="263" y="531" width="1" height="28" fill="#c0c0c0"/>
<rect x="267" y="531" width="1" height="24" fill="#c0c0c0"/>
<rect x="271" y="531" width="1" height="17" fill="#c0c0c0"/>
<rect x="275" y="531" width="1" height="16" fill="#c0c0c0"/>
<rect x="279" y="531" width="1" height="19" fill="#c0c0c0"/>
<rect x="283" y="531" width="1" height="22" fill="#c0c0c0"/>
<rect x="287" y="531" width="1" height="25" fill="#c0c0c0"/>
<rect x="291" y="531" width="1" height="26" fill="#c0c0c0"/>
<rect x="295" y="531" width="1" height="27" fill="#c0c0c0"/>
<rect x="299" y="531" width="1" height="26" fill="#c0c0c0"/>
<rect x="303" y="531" width="1" height="25" fill="#c0c0c0"/>
<rect x="307" y="531" width="1" height="23" fill="#c0c0c0"/>
<rect x="311" y="531" width="1" height="22" fill="#c0c0c0"/>
<rect x="315" y="531" width="1" height="22" fill="#c0c0c0"/>
<rect x="319" y="531" width="1" height="23" fill="#c0c0c0"/>
<rect x="323" y="531" width="1" height="27" fill="#c0c0c0"/>
<rect x="327" y="531" width="1" height="34" fill="#c0c0c0"/>
<rect x="331" y="531" width="1" height="39" fill="#c0c0c0"/>
<rect x="335" y="531" width="1" height="42" fill="#c0c0c0"/>
<rect x="339" y="531" width="1" height="42" fill="#c0c0c0"/>
<rect x="343" y="531" width="1" height="41" fill="#c0c0c0"/>
<rect x="347" y="531" width="1" height="41" fill="#c0c0c0"/>
<rect x="351" y="531" width="1" height="43" fill="#c0c0c0"/>
<rect x="355" y="531" width="1" height="46" fill="#c0c0c0"/>
<rect x="359" y="531" width="1" height="47" fill="#c0c0c0"/>
<rect x="363" y="531" width="1" height="48" fill="#c0c0c0"/>
<rect x="367" y="531" width="1" height="49" fill="#c0c0c0"/>
<rect x="371" y="531" width="1" height="50" fill="#c0c0c0"/>
<rect x="375" y="531" width="1" height="50" fill="#c0c0c0"/>
<rect x="379" y="531" width="1" height="47" fill="#c0c0c0"/>
<rect x="383" y="531" width="1" height="39" fill="#c0c0c0"/>
<rect x="387" y="531" width="1" height="36" fill="#c0c0c0"/>
<rect x="391" y="531" width="1" height="33" fill="#c0c0c0"/>
<rect x="395" y="531" width="1" height="30" fill="#c0c0c0"/>
<rect x="399" y="531" width="1" height="28" fill="#c0c0c0"/>
<rect x="403" y="531" width="1" height="26" fill="#c0c0c0"/>
<rect x="407" y="531" width="1" height="25" fill="#c0c0c0"/>
<rect x="411" y="531" width="1" height="25" fill="#c0c0c0"/>
<rect x="415" y="531" width="1" height="24" fill="#c0c0c0"/>
<rect x="419" y="531" width="1" height="25" fill="#c0c0c0"/>
<rect x="423" y="531" width="1" height="25" fill="#c0c0c0"/>
<rect x="427" y="531" width="1" height="24" fill="#c0c0c0"/>
<rect x="431" y="531" width="1" height="25" fill="#c0c0c0"/>
<rect x="435" y="531" width="1" height="27" fill="#c0c0c0"/>
<rect x="439" y="531" width="1" height="29" fill="#c0c0c0"/>
<rect x="443" y="531" width="1" height="30" fill="#c0c0c0"/>
<rect x="447" y="531" width="1" height="33" fill="#c0c0c0"/>
<rect x="451" y="531" width="1" height="33" fill="#c0c0c0"/>
<rect x="455" y="531" width="1" height="34" fill="#c0c0c0"/>
<rect x="459" y="531" width="1" height="32" fill="#c0c0c0"/>
<rect x="463" y="531" width="1" height="30" fill="#c0c0c0"/>
<rect x="467" y="531" width="1" height="24" fill="#c0c0c0"/>
<rect x="471" y="531" width="1" height="17" fill="#c0c0c0"/>
<rect x="475" y="531" width="1" height="11" fill="#c0c0c0"/>
<rect x="479" y="531" width="1" height="4" fill="#c0c0c0"/>
<rect x="483" y="531" width="1" height="1" fill="#c0c0c0"/>
<rect x="487" y="527" width="1" height="5" fill="#c0c0c0"/>
<rect x="491" y="521" width="1" height="11" fill="#c0c0c0"/>
<rect x="495" y="518" width="1" height="14" fill="#c0c0c0"/>
<rect x="499" y="521" width="1" height="11" fill="#c0c0c0"/>
<rect x="503" y="523" width="1" height="9" fill="#c0c0c0"/>
<rect x="507" y="524" width="1" height="8" fill="#c0c0c0"/>
<rect x="511" y="525" width="1" height="7" fill="#c0c0c0"/>
<rect x="515" y="526" width="1" height="6" fill="#c0c0c0"/>
<rect x="519" y="526" width="1" height="6" fill="#c0c0c0"/>
<rect x="523" y="525" width="1" height="7" fill="#c0c0c0"/>
<rect x="527" y="523" width="1" height="9" fill="#c0c0c0"/>
<rect x="531" y="520" width="1" height="12" fill="#c0c0c0"/>
<rect x="535" y="520" width="1" height="12" fill="#c0c0c0"/>
<rect x="539" y="521" width="1" height="11" fill="#c0c0c0"/>
<rect x="543" y="522" width="1" height="10" fill="#c0c0c0"/>
<rect x="547" y="519" width="1" height="13" fill="#c0c0c0"/>
<rect x="551" y="519" width="1" height="13" fill="#c0c0c0"/>
<rect x="555" y="516" width="1" height="16" fill="#c0c0c0"/>
<rect x="559" y="514" width="1" height="18" fill="#c0c0c0"/>
<rect x="563" y="506" width="1" height="26" fill="#c0c0c0"/>
<rect x="567" y="502" width="1" height="30" fill="#c0c0c0"/>
<rect x="571" y="500" width="1" height="32" fill="#c0c0c0"/>
<rect x="575" y="500" width="1" height="32" fill="#c0c0c0"/>
<rect x="579" y="505" width="1" height="27" fill="#c0c0c0"/>
<rect x="583" y="508" width="1" height="24" fill="#c0c0c0"/>
<rect x="587" y="511" width="1" height="21" fill="#c0c0c0"/>
<rect x="591" y="513" width="1" height="19" fill="#c0c0c0"/>
<rect x="595" y="516" width="1" height="16" fill="#c0c0c0"/>
<rect x="599" y="526" width="1" height="6" fill="#c0c0c0"/>
<rect x="603" y="531" width="1" height="3" fill="#c0c0c0"/>
<rect x="607" y="531" width="1" height="11" fill="#c0c0c0"/>
<rect x="611" y="531" width="1" height="17" fill="#c0c0c0"/>
<rect x="615" y="531" width="1" height="21" fill="#c0c0c0"/>
<rect x="619" y="531" width="1" height="24" fill="#c0c0c0"/>
<rect x="623" y="531" width="1" height="28" fill="#c0c0c0"/>
<rect x="627" y="531" width="1" height="31" fill="#c0c0c0"/>
<rect x="631" y="531" width="1" height="40" fill="#c0c0c0"/>
<rect x="635" y="531" width="1" height="48" fill="#c0c0c0"/>
<rect x="639" y="531" width="1" height="53" fill="#c0c0c0"/>
<rect x="643" y="531" width="1" height="59" fill="#c0c0c0"/>
<rect x="647" y="531" width="1" height="63" fill="#c0c0c0"/>
<rect x="651" y="531" width="1" height="67" fill="#c0c0c0"/>
<rect x="655" y="531" width="1" height="67" fill="#c0c0c0"/>
<rect x="659" y="531" width="1" height="68" fill="#c0c0c0"/>
<rect x="663" y="531" width="1" height="64" fill="#c0c0c0"/>
<rect x="667" y="531" width="1" height="59" fill="#c0c0c0"/>
<rect x="671" y="531" width="1" height="56" fill="#c0c0c0"/>
<rect x="675" y="531" width="1" height="49" fill="#c0c0c0"/>
<rect x="679" y="531" width="1" height="43" fill="#c0c0c0"/>
<rect x="683" y="531" width="1" height="42" fill="#c0c0c0"/>
<rect x="687" y="531" width="1" height="32" fill="#c0c0c0"/>
<rect x="691" y="531" width="1" height="27" fill="#c0c0c0"/>
<rect x="695" y="531" width="1" height="19" fill="#c0c0c0"/>
<rect x="699" y="531" width="1" height="14" fill="#c0c0c0"/>
<rect x="703" y="531" width="1" height="9" fill="#c0c0c0"/>
<rect x="707" y="531" width="1" height="9" fill="#c0c0c0"/>
<rect x="711" y="531" width="1" height="9" fill="#c0c0c0"/>
<rect x="715" y="531" width="1" height="7" fill="#c0c0c0"/>
<rect x="719" y="531" width="1" height="2" fill="#c0c0c0"/>
<rect x="723" y="531" width="1" height="1" fill="#c0c0c0"/>
<rect x="727" y="527" width="1" height="5" fill="#c0c0c0"/>
<rect x="731" y="527" width="1" height="5" fill="#c0c0c0"/>
<rect x="735" y="518" width="1" height="14" fill="#c0c0c0"/>
<rect x="739" y="512" width="1" height="20" fill="#c0c0c0"/>
<rect x="743" y="505" width="1" height="27" fill="#c0c0c0"/>
<rect x="747" y="500" width="1" height="32" fill="#c0c0c0"/>
<rect x="751" y="498" width="1" height="34" fill="#c0c0c0"/>
<rect x="755" y="495" width="1" height="37" fill="#c0c0c0"/>
<rect x="759" y="491" width="1" height="41" fill="#c0c0c0"/>
<rect x="763" y="486" width="1" height="46" fill="#c0c0c0"/>
<rect x="767" y="482" width="1" height="50" fill="#c0c0c0"/>
<rect x="771" y="481" width="1" height="51" fill="#c0c0c0"/>
<rect x="775" y="479" width="1" height="53" fill="#c0c0c0"/>
<rect x="779" y="482" width="1" height="50" fill="#c0c0c0"/>
<rect x="783" y="488" width="1" height="44" fill="#c0c0c0"/>
<rect x="787" y="492" width="1" height="40" fill="#c0c0c0"/>
<rect x="791" y="501" width="1" height="31" fill="#c0c0c0"/>
<rect x="795" y="507" width="1" height="25" fill="#c0c0c0"/>
<rect x="799" y="510" width="1" height="22" fill="#c0c0c0"/>
<rect x="803" y="515" width="1" height="17" fill="#c0c0c0"/>
<rect x="807" y="517" width="1" height="15" fill="#c0c0c0"/>
<rect x="811" y="518" width="1" height="14" fill="#c0c0c0"/>
<rect x="815" y="520" width="1" height="12" fill="#c0c0c0"/>
<rect x="819" y="522" width="1" height="10" fill="#c0c0c0"/>
<rect x="823" y="521" width="1" height="11" fill="#c0c0c0"/>
<rect x="827" y="519" width="1" height="13" fill="#c0c0c0"/>
<rect x="831" y="520" width="1" height="12" fill="#c0c0c0"/>
<rect x="835" y="520" width="1" height="12" fill="#c0c0c0"/>
<rect x="839" y="520" width="1" height="12" fill="#c0c0c0"/>
<rect x="843" y="520" width="1" height="12" fill="#c0c0c0"/>
<rect x="847" y="522" width="1" height="10" fill="#c0c0c0"/>
<rect x="851" y="527" width="1" height="5" fill="#c0c0c0"/>
<rect x="855" y="531" width="1" height="2" fill="#c0c0c0"/>
<rect x="859" y="531" width="1" height="7" fill="#c0c0c0"/>
<rect x="863" y="531" width="1" height="13" fill="#c0c0c0"/>
<rect x="867" y="531" width="1" height="17" fill="#c0c0c0"/>
<rect x="871" y="531" width="1" height="18" fill="#c0c0c0"/>
<rect x="875" y="531" width="1" height="16" fill="#c0c0c0"/>
<rect x="879" y="531" width="1" height="16" fill="#c0c0c0"/>
<rect x="883" y="531" width="1" height="18" fill="#c0c0c0"/>
<rect x="887" y="531" width="1" height="20" fill="#c0c0c0"/>
<rect x="891" y="531" width="1" height="21" fill="#c0c0c0"/>
<rect x="895" y="531" width="1" height="21" fill="#c0c0c0"/>
<rect x="899" y="531" width="1" height="24" fill="#c0c0c0"/>
<rect x="903" y="531" width="1" height="28" fill="#c0c0c0"/>
<rect x="907" y="531" width="1" height="31" fill="#c0c0c0"/>
<rect x="911" y="531" width="1" height="33" fill="#c0c0c0"/>
<rect x="915" y="531" width="1" height="35" fill="#c0c0c0"/>
<rect x="919" y="531" width="1" height="35" fill="#c0c0c0"/>
<rect x="923" y="531" width="1" height="35" fill="#c0c0c0"/>
<rect x="927" y="531" width="1" height="37" fill="#c0c0c0"/>
<rect x="931" y="531" width="1" height="38" fill="#c0c0c0"/>
<rect x="935" y="531" width="1" height="26" fill="#c0c0c0"/>
<rect x="939" y="531" width="1" height="17" fill="#c0c0c0"/>
<rect x="943" y="531" width="1" height="9" fill="#c0c0c0"/>
<rect x="947" y="531" width="1" height="5" fill="#c0c0c0"/>
<rect x="951" y="531" width="1" height="1" fill="#c0c0c0"/>
<rect x="955" y="526" width="1" height="6" fill="#c0c0c0"/>
<rect x="959" y="521" width="1" height="11" fill="#c0c0c0"/>
<rect x="963" y="517" width="1" height="15" fill="#c0c0c0"/>
<rect x="967" y="514" width="1" height="18" fill="#c0c0c0"/>
<rect x="971" y="515" width="1" height="17" fill="#c0c0c0"/>
<rect x="975" y="520" width="1" height="12" fill="#c0c0c0"/>
<rect x="979" y="526" width="1" height="6" fill="#c0c0c0"/>
<rect x="983" y="531" width="1" height="1" fill="#c0c0c0"/>
<rect x="987" y="531" width="1" height="1" fill="#c0c0c0"/>
</g>
<g clip-path="url(#cs)" shape-rendering="crispEdges" fill="#ff0000">
<path d="M786 486h1v1h-1zM784 487h2v1h-2zM790 487h3v1h-3zM779 488h2v1h-2zM778 489h1v1h-1zM796 489h1v1h-1zM797 490h1v1h-1zM798 491h1v1h-1zM774 492h1v1h-1zM773 493h1v1h-1zM772 494h1v1h-1zM802 494h1v1h-1zM803 495h1v1h-1zM804 496h1v1h-1zM768 498h1v1h-1zM767 499h1v1h-1zM766 500h1v1h-1zM808 500h1v1h-1zM809 501h1v1h-1zM810 502h1v1h-1zM762 504h2v1h-2zM761 505h1v1h-1zM146 507h3v1h-3zM152 507h3v1h-3zM587 507h3v1h-3zM593 507h3v1h-3zM814 507h1v1h-1zM141 508h2v1h-2zM158 508h3v1h-3zM581 508h3v1h-3zM815 508h1v1h-1zM140 509h1v1h-1zM164 509h3v1h-3zM170 509h1v1h-1zM599 509h1v1h-1zM758 509h1v1h-1zM816 509h1v1h-1zM136 510h1v1h-1zM171 510h2v1h-2zM176 510h3v1h-3zM182 510h3v1h-3zM188 510h3v1h-3zM576 510h2v1h-2zM600 510h1v1h-1zM757 510h1v1h-1zM134 511h2v1h-2zM194 511h3v1h-3zM575 511h1v1h-1zM601 511h1v1h-1zM757 511h1v1h-1zM200 512h1v1h-1zM820 512h1v1h-1zM201 513h2v1h-2zM571 513h1v1h-1zM821 513h1v1h-1zM130 514h1v1h-1zM569 514h2v1h-2zM605 514h1v1h-1zM822 514h1v1h-1zM129 515h1v1h-1zM206 515h2v1h-2zM605 515h1v1h-1zM753 515h1v1h-1zM128 516h1v1h-1zM208 516h1v1h-1zM565 516h1v1h-1zM606 516h1v1h-1zM752 516h1v1h-1zM826 516h1v1h-1zM563 517h2v1h-2zM751 517h1v1h-1zM827 517h2v1h-2zM212 518h1v1h-1zM832 518h2v1h-2zM213 519h2v1h-2zM559 519h1v1h-1zM834 519h1v1h-1zM838 519h1v1h-1zM124 520h1v1h-1zM557 520h2v1h-2zM609 520h1v1h-1zM839 520h2v1h-2zM844 520h3v1h-3zM123 521h1v1h-1zM552 521h2v1h-2zM610 521h1v1h-1zM747 521h1v1h-1zM850 521h3v1h-3zM122 522h1v1h-1zM547 522h1v1h-1zM551 522h1v1h-1zM611 522h1v1h-1zM746 522h1v1h-1zM983 522h2v1h-2zM218 523h1v1h-1zM521 523h3v1h-3zM527 523h3v1h-3zM539 523h3v1h-3zM545 523h2v1h-2zM745 523h1v1h-1zM856 523h2v1h-2zM978 523h1v1h-1zM982 523h1v1h-1zM219 524h1v1h-1zM515 524h3v1h-3zM533 524h3v1h-3zM858 524h1v1h-1zM976 524h2v1h-2zM220 525h1v1h-1zM511 525h1v1h-1zM119 526h1v1h-1zM509 526h2v1h-2zM862 526h1v1h-1zM118 527h1v1h-1zM614 527h1v1h-1zM863 527h1v1h-1zM972 527h1v1h-1zM117 528h1v1h-1zM505 528h1v1h-1zM615 528h1v1h-1zM741 528h1v1h-1zM864 528h1v1h-1zM970 528h2v1h-2zM224 529h1v1h-1zM504 529h1v1h-1zM616 529h1v1h-1zM740 529h1v1h-1zM225 530h1v1h-1zM503 530h1v1h-1zM739 530h1v1h-1zM226 531h1v1h-1zM868 531h1v1h-1zM113 532h1v1h-1zM869 532h1v1h-1zM967 532h1v1h-1zM112 533h1v1h-1zM499 533h1v1h-1zM619 533h1v1h-1zM734 533h2v1h-2zM870 533h1v1h-1zM966 533h1v1h-1zM111 534h1v1h-1zM498 534h1v1h-1zM620 534h1v1h-1zM733 534h1v1h-1zM966 534h1v1h-1zM230 535h1v1h-1zM497 535h1v1h-1zM621 535h1v1h-1zM231 536h1v1h-1zM874 536h2v1h-2zM232 537h1v1h-1zM729 537h1v1h-1zM876 537h1v1h-1zM727 538h2v1h-2zM963 538h1v1h-1zM107 539h1v1h-1zM624 539h1v1h-1zM962 539h1v1h-1zM106 540h1v1h-1zM493 540h1v1h-1zM625 540h1v1h-1zM880 540h1v1h-1zM962 540h1v1h-1zM105 541h1v1h-1zM236 541h1v1h-1zM493 541h1v1h-1zM881 541h2v1h-2zM237 542h1v1h-1zM492 542h1v1h-1zM625 542h1v1h-1zM722 542h2v1h-2zM237 543h1v1h-1zM721 543h1v1h-1zM886 544h1v1h-1zM959 544h1v1h-1zM101 545h1v1h-1zM489 545h1v1h-1zM887 545h2v1h-2zM958 545h1v1h-1zM100 546h1v1h-1zM488 546h1v1h-1zM628 546h1v1h-1zM957 546h1v1h-1zM99 547h1v1h-1zM241 547h1v1h-1zM487 547h1v1h-1zM629 547h1v1h-1zM717 547h1v1h-1zM892 547h1v1h-1zM242 548h1v1h-1zM630 548h1v1h-1zM716 548h1v1h-1zM893 548h2v1h-2zM243 549h1v1h-1zM715 549h1v1h-1zM898 550h3v1h-3zM954 550h1v1h-1zM95 551h1v1h-1zM904 551h1v1h-1zM953 551h1v1h-1zM94 552h1v1h-1zM482 552h2v1h-2zM632 552h1v1h-1zM905 552h2v1h-2zM952 552h1v1h-1zM93 553h1v1h-1zM295 553h3v1h-3zM301 553h3v1h-3zM481 553h1v1h-1zM633 553h1v1h-1zM711 553h1v1h-1zM247 554h2v1h-2zM290 554h2v1h-2zM307 554h3v1h-3zM634 554h1v1h-1zM910 554h2v1h-2zM249 555h1v1h-1zM289 555h1v1h-1zM313 555h3v1h-3zM319 555h3v1h-3zM710 555h1v1h-1zM912 555h1v1h-1zM88 556h2v1h-2zM285 556h1v1h-1zM325 556h3v1h-3zM428 556h2v1h-2zM433 556h3v1h-3zM439 556h3v1h-3zM709 556h1v1h-1zM948 556h1v1h-1zM87 557h1v1h-1zM283 557h2v1h-2zM427 557h1v1h-1zM445 557h2v1h-2zM476 557h2v1h-2zM916 557h2v1h-2zM947 557h1v1h-1zM331 558h2v1h-2zM421 558h3v1h-3zM447 558h1v1h-1zM475 558h1v1h-1zM636 558h2v1h-2zM918 558h1v1h-1zM946 558h1v1h-1zM83 559h1v1h-1zM253 559h2v1h-2zM278 559h2v1h-2zM333 559h1v1h-1zM451 559h3v1h-3zM638 559h1v1h-1zM81 560h2v1h-2zM255 560h1v1h-1zM277 560h1v1h-1zM415 560h3v1h-3zM457 560h2v1h-2zM470 560h2v1h-2zM705 560h1v1h-1zM922 560h3v1h-3zM273 561h1v1h-1zM337 561h2v1h-2zM459 561h1v1h-1zM463 561h3v1h-3zM469 561h1v1h-1zM705 561h1v1h-1zM941 561h2v1h-2zM76 562h2v1h-2zM259 562h3v1h-3zM271 562h2v1h-2zM339 562h1v1h-1zM704 562h1v1h-1zM928 562h1v1h-1zM940 562h1v1h-1zM75 563h1v1h-1zM265 563h3v1h-3zM411 563h1v1h-1zM641 563h1v1h-1zM929 563h2v1h-2zM57 564h3v1h-3zM70 564h2v1h-2zM343 564h2v1h-2zM409 564h2v1h-2zM641 564h1v1h-1zM934 564h3v1h-3zM51 565h3v1h-3zM63 565h3v1h-3zM69 565h1v1h-1zM345 565h1v1h-1zM46 566h2v1h-2zM642 566h1v1h-1zM701 566h1v1h-1zM45 567h1v1h-1zM349 567h2v1h-2zM405 567h1v1h-1zM700 567h1v1h-1zM41 568h1v1h-1zM351 568h1v1h-1zM404 568h1v1h-1zM700 568h1v1h-1zM39 569h2v1h-2zM403 569h1v1h-1zM35 570h1v1h-1zM355 570h1v1h-1zM645 570h1v1h-1zM33 571h2v1h-2zM356 571h1v1h-1zM399 571h1v1h-1zM646 571h1v1h-1zM697 571h1v1h-1zM357 572h1v1h-1zM397 572h2v1h-2zM647 572h1v1h-1zM696 572h1v1h-1zM361 573h1v1h-1zM696 573h1v1h-1zM29 574h1v1h-1zM362 574h2v1h-2zM393 574h1v1h-1zM27 575h2v1h-2zM367 575h1v1h-1zM391 575h2v1h-2zM368 576h2v1h-2zM650 576h1v1h-1zM373 577h3v1h-3zM385 577h3v1h-3zM651 577h1v1h-1zM693 577h1v1h-1zM23 578h1v1h-1zM379 578h3v1h-3zM652 578h1v1h-1zM21 579h2v1h-2zM692 579h1v1h-1zM691 580h1v1h-1zM16 582h2v1h-2zM655 582h1v1h-1zM15 583h1v1h-1zM656 583h1v1h-1zM657 584h1v1h-1zM687 584h1v1h-1zM11 585h1v1h-1zM686 585h1v1h-1zM5 586h1v1h-1zM9 586h2v1h-2zM685 586h1v1h-1zM3 587h2v1h-2zM661 588h1v1h-1zM662 589h1v1h-1zM681 589h1v1h-1zM663 590h1v1h-1zM679 590h2v1h-2zM667 592h3v1h-3zM673 592h3v1h-3z"/>
</g>
<g shape-rendering="crispEdges">
<rect x="3" y="606" width="1" height="3" fill="#000"/>
<rect x="67" y="606" width="1" height="3" fill="#000"/>
<rect x="131" y="606" width="1" height="3" fill="#000"/>
<rect x="195" y="606" width="1" height="3" fill="#000"/>
<rect x="259" y="606" width="1" height="3" fill="#000"/>
<rect x="323" y="606" width="1" height="3" fill="#000"/>
<rect x="387" y="606" width="1" height="3" fill="#000"/>
<rect x="451" y="606" width="1" height="3" fill="#000"/>
<rect x="515" y="606" width="1" height="3" fill="#000"/>
<rect x="579" y="606" width="1" height="3" fill="#000"/>
<rect x="643" y="606" width="1" height="3" fill="#000"/>
<rect x="707" y="606" width="1" height="3" fill="#000"/>
<rect x="771" y="606" width="1" height="3" fill="#000"/>
<rect x="835" y="606" width="1" height="3" fill="#000"/>
<rect x="899" y="606" width="1" height="3" fill="#000"/>
<rect x="963" y="606" width="1" height="3" fill="#000"/>
</g>
<text x="2.2" y="618" font-size="9.3" fill="#000" textLength="46" lengthAdjust="spacingAndGlyphs">5 Oct 2018</text>
<text x="66.2" y="618" font-size="9.3" fill="#000" textLength="49.6" lengthAdjust="spacingAndGlyphs">9 Oct 22:00</text>
<text x="130.2" y="618" font-size="9.3" fill="#000" textLength="53.6" lengthAdjust="spacingAndGlyphs">12 Oct 14:00</text>
<text x="194.2" y="618" font-size="9.3" fill="#000" textLength="53.6" lengthAdjust="spacingAndGlyphs">17 Oct 04:00</text>
<text x="258.2" y="618" font-size="9.3" fill="#000" textLength="53.6" lengthAdjust="spacingAndGlyphs">19 Oct 22:00</text>
<text x="322.2" y="618" font-size="9.3" fill="#000" textLength="53.6" lengthAdjust="spacingAndGlyphs">24 Oct 14:00</text>
<text x="386.2" y="618" font-size="9.3" fill="#000" textLength="53.6" lengthAdjust="spacingAndGlyphs">29 Oct 07:00</text>
<text x="450.2" y="618" font-size="9.3" fill="#000" textLength="53.6" lengthAdjust="spacingAndGlyphs">31 Oct 22:00</text>
<text x="514.2" y="618" font-size="9.3" fill="#000" textLength="52.3" lengthAdjust="spacingAndGlyphs">5 Nov 15:00</text>
<text x="578.2" y="618" font-size="9.3" fill="#000" textLength="52.3" lengthAdjust="spacingAndGlyphs">8 Nov 04:00</text>
<text x="642.2" y="618" font-size="9.3" fill="#000" textLength="57" lengthAdjust="spacingAndGlyphs">12 Nov 23:00</text>
<text x="706.2" y="618" font-size="9.3" fill="#000" textLength="57" lengthAdjust="spacingAndGlyphs">15 Nov 15:00</text>
<text x="770.2" y="618" font-size="9.3" fill="#000" textLength="57" lengthAdjust="spacingAndGlyphs">20 Nov 04:00</text>
<text x="834.2" y="618" font-size="9.3" fill="#000" textLength="57" lengthAdjust="spacingAndGlyphs">22 Nov 23:00</text>
<text x="898.2" y="618" font-size="9.3" fill="#000" textLength="57" lengthAdjust="spacingAndGlyphs">27 Nov 15:00</text>
<text x="962.2" y="618" font-size="9.3" fill="#000" textLength="57" lengthAdjust="spacingAndGlyphs">30 Nov 04:00</text>
<g shape-rendering="crispEdges">
<rect x="0" y="626" width="1283" height="27" fill="#f0f0f0"/>
<rect x="0" y="628" width="1283" height="1" fill="#000"/>
<rect x="5" y="627" width="90" height="19" fill="#fff"/>
<rect x="4" y="628" width="1" height="19" fill="#000"/>
<rect x="95" y="628" width="1" height="19" fill="#000"/>
<rect x="4" y="646" width="92" height="1" fill="#000"/>
<rect x="96" y="629" width="1" height="18" fill="#9a9a9a"/>
<rect x="5" y="647" width="92" height="1" fill="#9a9a9a"/>
<rect x="0" y="650" width="1283" height="2" fill="#fcfcfc"/>
<rect x="0" y="652" width="1283" height="1" fill="#a0a0a0"/>
<rect x="184" y="631" width="1" height="14" fill="#808080"/>
<rect x="276" y="631" width="1" height="14" fill="#808080"/>
<rect x="368" y="631" width="1" height="14" fill="#808080"/>
<rect x="460" y="631" width="1" height="14" fill="#808080"/>
</g>
<text x="16.5" y="642.5" font-size="12.5" fill="#000" textLength="67" lengthAdjust="spacingAndGlyphs">EURUSD,H4</text>
<text x="106.5" y="642.5" font-size="12.5" fill="#6e6e6e" textLength="66" lengthAdjust="spacingAndGlyphs">USDCHF,H4</text>
<text x="195.5" y="642.5" font-size="12.5" fill="#6e6e6e" textLength="69" lengthAdjust="spacingAndGlyphs">USDCAD,H4</text>
<text x="286.5" y="642.5" font-size="12.5" fill="#6e6e6e" textLength="70" lengthAdjust="spacingAndGlyphs">AUDUSD,H4</text>
<text x="378" y="642.5" font-size="12.5" fill="#6e6e6e" textLength="71.3" lengthAdjust="spacingAndGlyphs">USDCNH,H4</text>
<path d="M1259.5 633.5 L1259.5 640.5 L1255.5 637 Z" fill="#909090"/>
<path d="M1274.5 633.5 L1274.5 640.5 L1278.5 637 Z" fill="#909090"/>
</svg>
</body></html>
